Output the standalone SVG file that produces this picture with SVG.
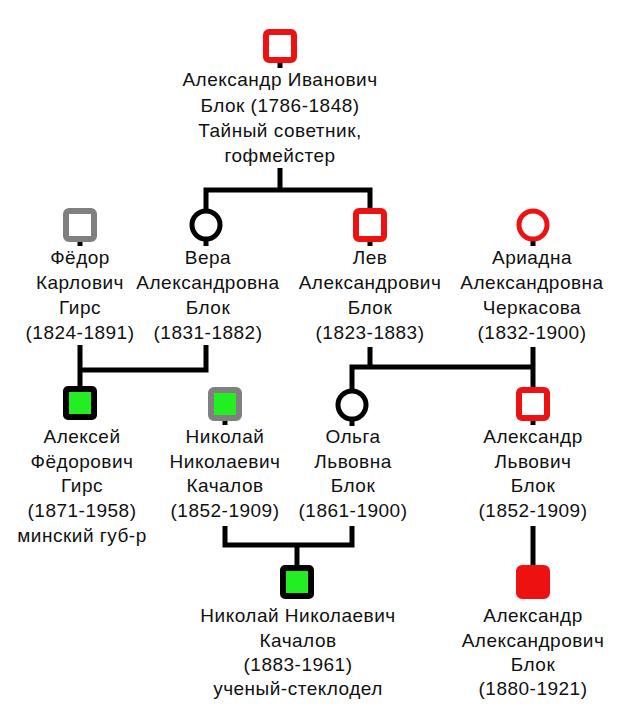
<svg xmlns="http://www.w3.org/2000/svg" width="620" height="716" viewBox="0 0 620 716">
<style>
text{font-family:"Liberation Sans",Arial,sans-serif;font-size:19px;fill:#111;text-anchor:middle;letter-spacing:0.5px}
.ln{fill:none;stroke:#000;stroke-width:5;stroke-linejoin:miter;stroke-linecap:butt}
.sq{stroke-width:6}
.red{stroke:#ee1111;fill:#fff}
.redf{stroke:#ee1111;fill:#ee1111}
.gray{stroke:#808080;fill:#fff}
.grayg{stroke:#808080;fill:#22ee22}
.blkg{stroke:#000;fill:#22ee22}
.circ{fill:#fff;stroke-width:5}
.blk{stroke:#000}
</style>
<rect width="620" height="716" fill="#fff"/>
<g id="connectors" class="ln">
<path d="M280,60 V68"/>
<path d="M280,168 V190 M206,212 V190 H370 V212"/>
<path d="M80,238 V246 M206,238 V246 M370,238 V246 M533,238 V246"/>
<path d="M206,345 V370 H80 M80,345 V389"/>
<path d="M370,347 V367 M352,392 V367 H533 M533,347 V390"/>
<path d="M225,416 V425 M352,418 V426 M533,417 V425"/>
<path d="M225,526 V545 H352 V526 M297,545 V568"/>
<path d="M533,526 V568"/>
</g>
<g id="n1"><rect class="sq red" x="266" y="32" width="28" height="28" rx="3"/>
<text x="280" y="86">Александр Иванович</text><text x="280" y="111.5">Блок (1786-1848)</text><text x="280" y="137">Тайный советник,</text><text x="280" y="162">гофмейстер</text></g>
<g id="n2"><rect class="sq gray" x="66" y="211" width="28" height="28" rx="3"/>
<text x="80" y="264">Фёдор</text><text x="80" y="289">Карлович</text><text x="80" y="314">Гирс</text><text x="80" y="339">(1824-1891)</text></g>
<g id="n3"><circle class="circ blk" cx="206" cy="225" r="14"/>
<text x="208" y="264">Вера</text><text x="208" y="289">Александровна</text><text x="208" y="314">Блок</text><text x="208" y="339">(1831-1882)</text></g>
<g id="n4"><rect class="sq red" x="356" y="211" width="28" height="28" rx="3"/>
<text x="370" y="264">Лев</text><text x="370" y="289">Александрович</text><text x="370" y="314">Блок</text><text x="370" y="339">(1823-1883)</text></g>
<g id="n5"><circle class="circ red" cx="533" cy="225" r="14"/>
<text x="532" y="264">Ариадна</text><text x="532" y="289">Александровна</text><text x="532" y="314">Черкасова</text><text x="532" y="339">(1832-1900)</text></g>
<g id="n6"><rect class="sq blkg" x="66" y="389" width="28" height="28" rx="2"/>
<text x="82" y="443">Алексей</text><text x="82" y="467.5">Фёдорович</text><text x="82" y="492">Гирс</text><text x="82" y="517">(1871-1958)</text><text x="82" y="542">минский губ-р</text></g>
<g id="n7"><rect class="sq grayg" x="211" y="390" width="28" height="28" rx="3"/>
<text x="225" y="443">Николай</text><text x="225" y="467.5">Николаевич</text><text x="225" y="492">Качалов</text><text x="225" y="517">(1852-1909)</text></g>
<g id="n8"><circle class="circ blk" cx="352" cy="405" r="14"/>
<text x="353" y="443">Ольга</text><text x="353" y="467.5">Львовна</text><text x="353" y="492">Блок</text><text x="353" y="517">(1861-1900)</text></g>
<g id="n9"><rect class="sq red" x="519" y="390" width="28" height="28" rx="3"/>
<text x="533" y="443">Александр</text><text x="533" y="467.5">Львович</text><text x="533" y="492">Блок</text><text x="533" y="517">(1852-1909)</text></g>
<g id="n10"><rect class="sq blkg" x="283" y="568" width="28" height="28" rx="2"/>
<text x="298" y="622">Николай Николаевич</text><text x="298" y="647">Качалов</text><text x="298" y="671">(1883-1961)</text><text x="298" y="695">ученый-стеклодел</text></g>
<g id="n11"><rect class="sq redf" x="519" y="568" width="28" height="28" rx="3"/>
<text x="533" y="622">Александр</text><text x="533" y="647">Александрович</text><text x="533" y="671">Блок</text><text x="533" y="695">(1880-1921)</text></g>
</svg>
